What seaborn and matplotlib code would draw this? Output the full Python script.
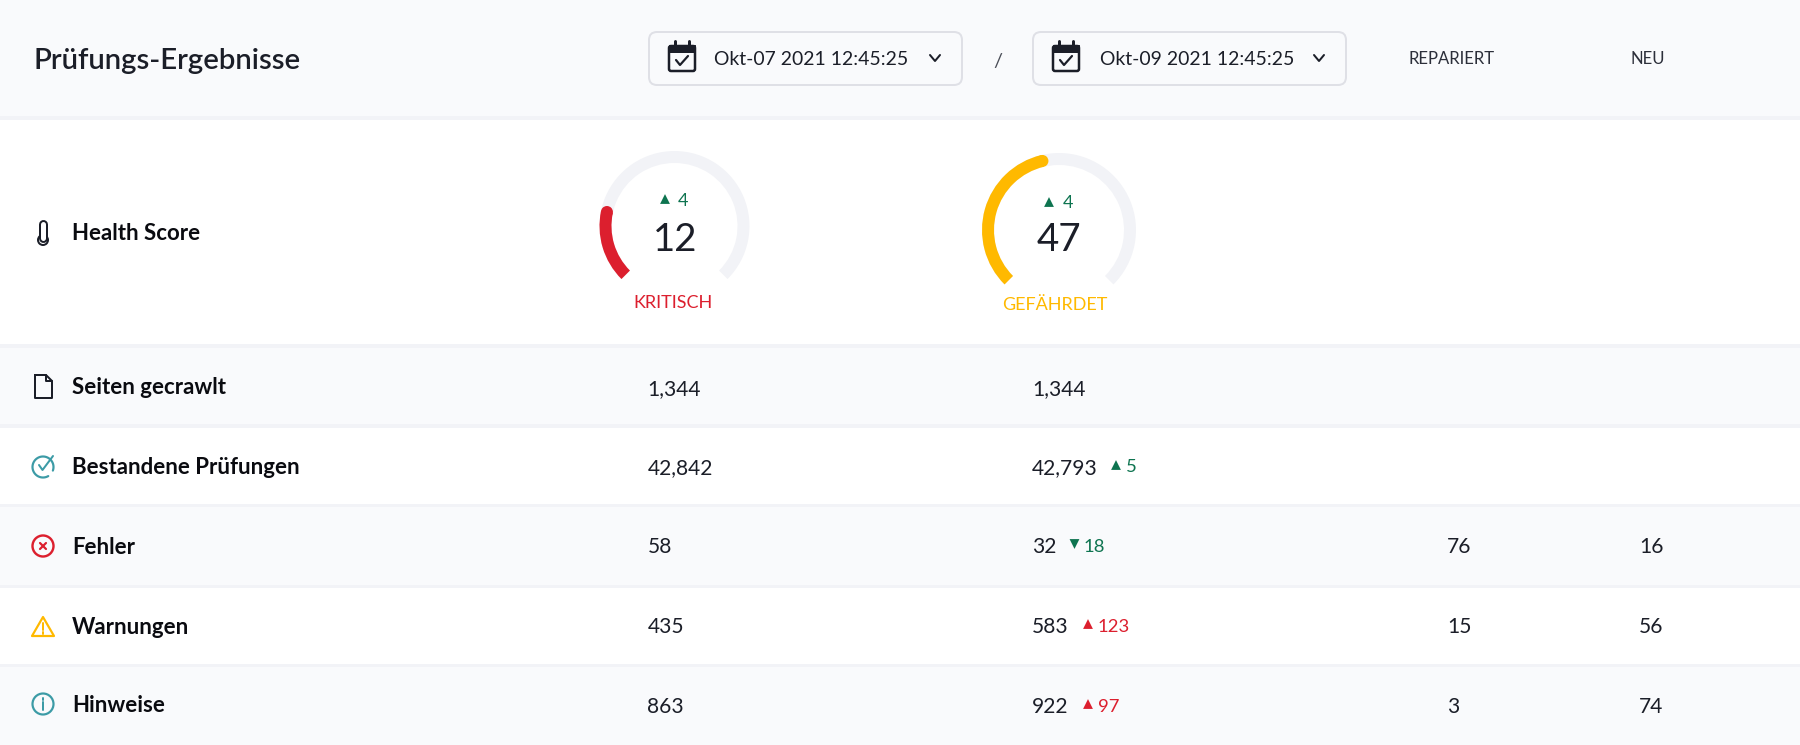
import matplotlib
matplotlib.use('Agg')
import matplotlib.pyplot as plt
import matplotlib.patches as mpatches
import numpy as np
import pandas as pd
import seaborn as sns

# values
title = 'Prüfungs-Ergebnisse'
date_labels = ['Okt-07 2021 12:45:25', 'Okt-09 2021 12:45:25']
column_labels = ['REPARIERT', 'NEU']

row_labels = ['Seiten gecrawlt', 'Bestandene Prüfungen', 'Fehler', 'Warnungen', 'Hinweise']
first_audit = [1344, 42842, 58, 435, 863]
second_audit = [1344, 42793, 32, 583, 922]
repaired = [None, None, 76, 15, 3]
new_items = [None, None, 16, 56, 74]
row_delta = [None, 5, 18, 123, 97]
row_delta_dir = [None, 'up', 'down', 'up', 'up']
row_delta_tone = [None, 'good', 'good', 'bad', 'bad']

health_label = 'Health Score'
health_scores = [12, 47]
health_delta = [4, 4]
health_status = ['KRITISCH', 'GEFÄHRDET']
gauge_fill = [0.21, 0.45]  # share of the arc as drawn, not the score

# colours
DARK = '#1b1e28'
BLACK = '#0a0b10'
BAND = '#f9fafc'
LINE = '#f2f3f7'
RED = '#dc1f2e'
YELLOW = '#ffb900'
TEAL = '#3c9ba6'
GREEN = '#0e7450'

W, H = 1800, 745
sns.set_style('white')
plt.rcParams['font.family'] = ['Lato', 'DejaVu Sans']

fig = plt.figure(figsize=(W / 100, H / 100), dpi=100, facecolor='white')
ax = fig.add_axes([0, 0, 1, 1])
ax.set_xlim(0, W)
ax.set_ylim(H, 0)
ax.axis('off')


def px(n):
    return n * 0.72


def label(x, y, s, size, color=DARK, weight='normal', ha='left'):
    ax.text(x, y, s, fontsize=px(size), color=color, fontweight=weight, ha=ha, va='center_baseline', zorder=5)


# bands and separators
for top, bottom, col in [(0, 116, BAND), (348, 424, BAND), (507, 585, BAND), (667, 745, BAND)]:
    ax.axhspan(top, bottom, color=col, lw=0, zorder=0)
for top, bottom in [(116, 120), (344, 348), (424, 428), (504, 507), (585, 588), (664, 667)]:
    ax.axhspan(top, bottom, color=LINE, lw=0, zorder=1)

# header
label(34, 58, title, 29.4, weight='semibold')
box_left = [649, 1033]
date_x = [714, 1100]
for x0, tx, s in zip(box_left, date_x, date_labels):
    ax.add_patch(mpatches.FancyBboxPatch((x0, 32), 313, 53, boxstyle='round,pad=0,rounding_size=8',
                                         fc=BAND, ec='#dfe0e6', lw=px(2)))
    # calendar icon
    ax.add_patch(mpatches.FancyBboxPatch((x0 + 20, 46), 26, 25, boxstyle='round,pad=0,rounding_size=2',
                                         fc=BAND, ec=DARK, lw=px(2.5)))
    ax.add_patch(mpatches.Rectangle((x0 + 20, 45), 26, 7, fc=DARK, ec=DARK, lw=px(1)))
    ax.plot([x0 + 26, x0 + 26], [41, 46], color=DARK, lw=px(3))
    ax.plot([x0 + 40, x0 + 40], [41, 46], color=DARK, lw=px(3))
    ax.plot([x0 + 27, x0 + 31, x0 + 39], [60, 65, 56], color=DARK, lw=px(2.2))
    label(tx, 58, s, 19.4)
    ax.plot([x0 + 281, x0 + 286, x0 + 291], [55, 61, 55], color=DARK, lw=px(2))
label(998, 60, '/', 20, ha='center', color='#4a4d57')
label(1408, 58, column_labels[0], 16.6, color='#2c2f3a')
label(1630, 58, column_labels[1], 16.6, color='#2c2f3a')

# health row
label(72, 232, health_label, 22.3, color=BLACK, weight='bold')
ax.plot([43, 43], [224, 238], color=DARK, lw=px(9), solid_capstyle='round')
ax.add_patch(mpatches.Circle((43, 240), 6, fc=DARK, ec='none'))
ax.plot([43, 43], [224, 238], color='white', lw=px(5), solid_capstyle='round')
ax.add_patch(mpatches.Circle((43, 240), 4, fc='white', ec='none'))

gauge_x = [674.5, 1059]
gauge_y = [226, 230]
gauge_r = [75, 77]
gauge_colors = [RED, YELLOW]
for gx, gy, r, fill, col in zip(gauge_x, gauge_y, gauge_r, gauge_fill, gauge_colors):
    sub = fig.add_axes([(gx - r) / W, 1 - (gy + r) / H, 2 * r / W, 2 * r / H])
    sub.patch.set_alpha(0)
    sub.pie([270, 90], startangle=225, counterclock=False, colors=[LINE, 'none'], radius=1,
            wedgeprops=dict(width=12 / r, lw=0))
    sub.pie([270 * fill, 360 - 270 * fill], startangle=225, counterclock=False, colors=[col, 'none'], radius=1,
            wedgeprops=dict(width=12 / r, lw=0))
    tip = np.deg2rad(225 - 270 * fill)
    mid = 1 - 6 / r
    sub.add_patch(mpatches.Circle((mid * np.cos(tip), mid * np.sin(tip)), 6 / r, fc=col, ec='none'))
    sub.set_xlim(-1, 1)
    sub.set_ylim(-1, 1)
    sub.axis('off')

score_x = [675, 1058.5]
status_x = [673, 1055]
status_y = [302, 304]
delta_text_x = [678, 1063]
delta_y = [199, 202]
for i in range(2):
    fig.text(score_x[i] / W, 1 - 236 / H, str(health_scores[i]), fontsize=px(38.5), color=DARK,
             ha='center', va='center_baseline')
    fig.text(status_x[i] / W, 1 - status_y[i] / H, health_status[i], fontsize=px(18), color=gauge_colors[i],
             ha='center', va='center_baseline')
    fig.text(delta_text_x[i] / W, 1 - delta_y[i] / H, str(health_delta[i]), fontsize=px(18), color=GREEN,
             va='center_baseline')

# table rows
label_y = [386, 466, 546, 626, 704]
row_y = [387, 466, 545, 625, 705]
col_x = [647.5, 1032, 1447, 1639]
for i, name in enumerate(row_labels):
    label(72, label_y[i], name, 22.3, color=BLACK, weight='bold')
    for x, values in zip(col_x, [first_audit, second_audit, repaired, new_items]):
        if values[i] is not None:
            label(x, row_y[i], f'{values[i]:,}', 21)

# delta numbers next to the second audit
delta_x = [None, 1126, 1084, 1098, 1098]
tone_color = {'good': GREEN, 'bad': RED}
for i, d in enumerate(row_delta):
    if d is not None:
        label(delta_x[i], row_y[i], str(d), 18.5, color=tone_color[row_delta_tone[i]])

# delta triangles
tri = pd.DataFrame({
    'x': [665, 1049, 1116, 1074.5, 1088, 1088],
    'y': [199, 202, 465, 544, 624, 704],
    'dir': ['up', 'up'] + row_delta_dir[1:],
    'tone': ['good', 'good'] + row_delta_tone[1:],
})
sns.scatterplot(data=tri, x='x', y='y', hue='tone', style='dir', palette=tone_color,
                markers={'up': '^', 'down': 'v'}, s=50, linewidth=0, legend=False, ax=ax, zorder=5)
ax.set_xlim(0, W)
ax.set_ylim(H, 0)
ax.axis('off')

# row icons
doc_x = [35, 46, 52, 52, 35, 35]
doc_y = [375, 375, 381, 398, 398, 375]
ax.plot(doc_x, doc_y, color=DARK, lw=px(2), solid_joinstyle='round')
ax.plot([46, 46, 52], [375, 381, 381], color=DARK, lw=px(2))

theta = np.deg2rad(np.linspace(-300, 20, 60))
ax.plot(43 + 10.5 * np.cos(theta), 467 + 10.5 * np.sin(theta), color=TEAL, lw=px(2.2))
ax.plot([39, 42.5, 53], [465, 470, 456], color=TEAL, lw=px(2))

ax.add_patch(mpatches.Circle((43, 546), 10.5, fc='none', ec=RED, lw=px(2.4)))
ax.plot([40, 46], [543, 549], color=RED, lw=px(2.2))
ax.plot([40, 46], [549, 543], color=RED, lw=px(2.2))

ax.add_patch(mpatches.Polygon([(43, 617), (54, 636), (32, 636)], closed=True, fc='none', ec=YELLOW,
                              lw=px(2.2), joinstyle='round'))
ax.plot([43, 43], [623, 630], color=YELLOW, lw=px(2))
ax.plot([43, 43], [632, 633.5], color=YELLOW, lw=px(2))

ax.add_patch(mpatches.Circle((43, 704), 10.5, fc='none', ec=TEAL, lw=px(2.2)))
ax.plot([43, 43], [702, 710], color=TEAL, lw=px(2))
ax.plot([43, 43], [698, 699.5], color=TEAL, lw=px(2))

fig.savefig('out.png', dpi=100)
